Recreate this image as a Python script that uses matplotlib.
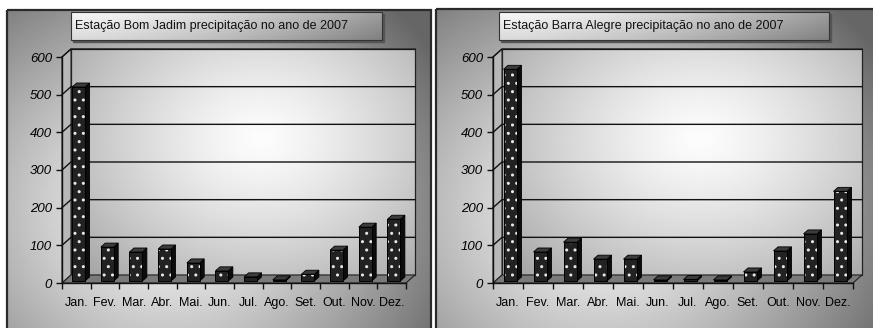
import numpy as np
import matplotlib.pyplot as plt
from matplotlib.patches import Rectangle, Polygon

meses = ['Jan.', 'Fev.', 'Mar.', 'Abr.', 'Mai.', 'Jun.', 'Jul.', 'Ago.', 'Set.', 'Out.', 'Nov.', 'Dez.']
bom_jadim = [515, 90, 77, 85, 48, 27, 11, 3, 18, 82, 143, 164]
barra_alegre = [562, 77, 103, 58, 58, 3, 4, 3, 24, 80, 125, 238]
titulos = ['Estação Bom Jadim precipitação no ano de 2007',
           'Estação Barra Alegre precipitação no ano de 2007']
y_ticks = [0, 100, 200, 300, 400, 500, 600]

FONT = ['Liberation Sans', 'DejaVu Sans']
W, H = 873, 328

fig = plt.figure(figsize=(W / 100, H / 100), dpi=100)
fig.patch.set_facecolor('white')

# background layer in pixel coordinates
bg = fig.add_axes([0, 0, 1, 1])
bg.set_xlim(0, W)
bg.set_ylim(H, 0)
bg.axis('off')


def radial(cx, cy, sx, sy, hi, lo, n=200):
    yy, xx = np.mgrid[0:1:n * 1j, 0:1:n * 1j]
    r = np.sqrt(((xx - cx) / sx) ** 2 + ((yy - cy) / sy) ** 2)
    return hi - (hi - lo) * np.clip(r, 0, 1) ** 1.3


def panel_bg(x0, x1, y0, y1):
    img = radial(0.38, 0.62, 0.75, 0.9, 0.97, 0.40)
    bg.imshow(img, extent=(x0, x1, y1, y0), cmap='gray', vmin=0, vmax=1,
              aspect='auto', zorder=0)
    bg.add_patch(Rectangle((x0, y0), x1 - x0, y1 - y0, fill=False,
                           edgecolor='#2a2a2a', lw=1.6, zorder=1))


def title_box(x0, x1, y0, y1, text):
    bg.add_patch(Rectangle((x0 + 2, y0 + 2), x1 - x0, y1 - y0,
                           color='#555555', zorder=2))
    yy, xx = np.mgrid[0:1:50j, 0:1:200j]
    img = 0.97 - 0.35 * xx ** 1.5 - 0.12 * yy
    bg.imshow(img, extent=(x0, x1, y1, y0), cmap='gray', vmin=0, vmax=1,
              aspect='auto', zorder=3)
    bg.add_patch(Rectangle((x0, y0), x1 - x0, y1 - y0, fill=False,
                           edgecolor='#333333', lw=0.8, zorder=4))
    bg.text(x0 + 4, (y0 + y1) / 2, text, ha='left', va='center',
            fontsize=9, family=FONT, color='#111111', zorder=5)


panel_bg(7, 431, 10, 330)
panel_bg(436, 875, 9, 330)
title_box(71, 382, 12, 40, titulos[0])
title_box(499, 829, 12, 40, titulos[1])


def chart(x0, x1, values):
    y0, y1 = 283, 57
    ax = fig.add_axes([x0 / W, (H - y0) / H, (x1 - x0) / W, (y0 - y1) / H])
    ax.set_xlim(-0.5, 11.5)
    ax.set_ylim(0, 600)
    ax.patch.set_alpha(0)
    n = len(values)
    dx = 9 / ((x1 - x0) / n)
    dy = 8 / ((y0 - y1) / 600)
    L, R = -0.5, n - 0.5

    # back wall with radial gradient
    img = radial(0.55, 0.4, 0.75, 0.9, 0.99, 0.62)
    ax.imshow(img, extent=(L + dx, R + dx, dy, 600 + dy), cmap='gray',
              vmin=0, vmax=1, aspect='auto', zorder=0, clip_on=False)
    ax.add_patch(Rectangle((L + dx, dy), R - L, 600, fill=False,
                           edgecolor='#222222', lw=0.9, zorder=1, clip_on=False))
    # side wall
    ax.add_patch(Polygon([(L, 0), (L + dx, dy), (L + dx, 600 + dy), (L, 600)],
                         closed=True, facecolor='#b8b8b8', edgecolor='#222222',
                         lw=0.8, zorder=1, clip_on=False))
    # gridlines on side and back walls
    for v in y_ticks[1:]:
        ax.plot([L, L + dx, R + dx], [v, v + dy, v + dy], color='#111111',
                lw=1.0, zorder=1.5, clip_on=False)
    # floor
    ax.add_patch(Polygon([(L, 0), (R, 0), (R + dx, dy), (L + dx, dy)],
                         closed=True, facecolor='#7a7a7a', edgecolor='#222222',
                         lw=0.8, zorder=2, clip_on=False))

    # bars: front face, side and top
    x = np.arange(n)
    w = 0.45
    d0, d1 = 0.25, 0.75
    fx, fy = d0 * dx, d0 * dy
    ddx, ddy = (d1 - d0) * dx, (d1 - d0) * dy
    for i, v in enumerate(values):
        xr = i + w / 2 + fx
        xl = i - w / 2 + fx
        ax.add_patch(Polygon([(xr, fy), (xr + ddx, fy + ddy), (xr + ddx, v + fy + ddy),
                              (xr, v + fy)], closed=True, facecolor='#0c0c0c',
                             edgecolor='#000000', lw=0.6, zorder=3, clip_on=False))
        ax.add_patch(Polygon([(xl, v + fy), (xr, v + fy), (xr + ddx, v + fy + ddy),
                              (xl + ddx, v + fy + ddy)], closed=True,
                             facecolor='#3c3c3c', edgecolor='#000000', lw=0.6,
                             zorder=3, clip_on=False))
    ax.bar(x + fx, values, width=w, bottom=fy, color='#222222', hatch='..',
           edgecolor='#e8e8e8', linewidth=0, zorder=3.5, clip_on=False)
    ax.bar(x + fx, values, width=w, bottom=fy, fill=False,
           edgecolor='#000000', linewidth=0.7, zorder=3.6, clip_on=False)

    # axes
    for s in ['top', 'right']:
        ax.spines[s].set_visible(False)
    for s in ['left', 'bottom']:
        ax.spines[s].set_color('#111111')
        ax.spines[s].set_linewidth(1.0)
        ax.spines[s].set_zorder(4)
    ax.set_yticks(y_ticks)
    ax.set_yticklabels([str(t) for t in y_ticks], fontsize=9.5, family=FONT,
                       style='italic')
    ax.set_xticks(x)
    ax.set_xticklabels(meses, fontsize=9, family=FONT)
    ax.set_xticks(np.arange(L, R + 0.01, 1), minor=True)
    ax.tick_params(axis='x', which='major', length=0, pad=10)
    ax.tick_params(axis='x', which='minor', length=4, width=1, color='#111111')
    ax.tick_params(axis='y', length=4, width=1, color='#111111', pad=3)
    return ax


chart(62, 406, bom_jadim)
chart(493, 853, barra_alegre)

fig.savefig('out.png', dpi=100)
